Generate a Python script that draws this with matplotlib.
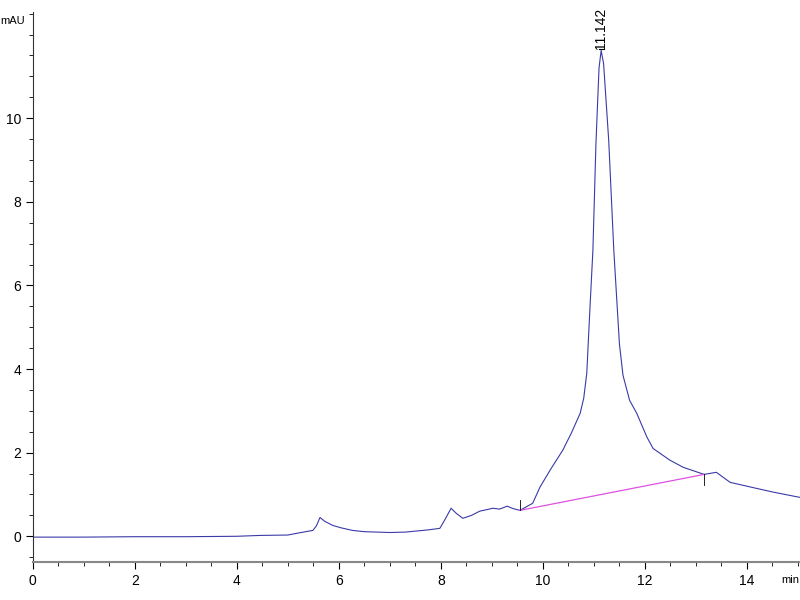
import matplotlib
matplotlib.use("Agg")
import matplotlib.pyplot as plt
import numpy as np

# chromatogram trace (min, mAU)
time = [0.0, 1.0, 2.0, 3.0, 4.0, 4.45, 5.0, 5.17, 5.35, 5.49, 5.56, 5.63, 5.72, 5.88,
        6.05, 6.27, 6.5, 6.75, 7.0, 7.3, 7.73, 7.98, 8.08, 8.2, 8.3, 8.43, 8.6, 8.76,
        9.02, 9.15, 9.3, 9.42, 9.55, 9.8, 9.94, 10.15, 10.39, 10.55, 10.73, 10.8,
        10.86, 10.92, 10.98, 11.04, 11.1, 11.142, 11.19, 11.29, 11.39, 11.5, 11.57,
        11.7, 11.84, 12.04, 12.16, 12.49, 12.75, 13.16, 13.4, 13.67, 14.1, 14.5, 15.04]
signal = [-0.02, -0.02, -0.01, -0.01, 0.0, 0.02, 0.03, 0.07, 0.11, 0.14, 0.25, 0.45,
          0.36, 0.26, 0.2, 0.14, 0.11, 0.1, 0.09, 0.1, 0.15, 0.19, 0.4, 0.67, 0.55,
          0.43, 0.5, 0.6, 0.67, 0.65, 0.72, 0.66, 0.62, 0.79, 1.17, 1.6, 2.06, 2.45,
          2.94, 3.3, 3.9, 5.4, 6.84, 9.4, 11.2, 11.62, 11.3, 9.47, 6.84, 4.6, 3.85,
          3.25, 2.94, 2.37, 2.1, 1.82, 1.65, 1.48, 1.53, 1.29, 1.17, 1.06, 0.93]

peak_rt = 11.142
peak_label = "11.142"
base_t = [9.55, 13.16]
base_y = [0.62, 1.48]

fig = plt.figure(figsize=(8, 6), dpi=100)
ax = fig.add_axes([0.041, 0.063, 0.959, 0.917])

ax.plot(time, signal, color="#3a3aa8", lw=0.8)
ax.plot(base_t, base_y, color="#e050e0", lw=0.9)
# integration marks
ax.plot([base_t[0], base_t[0]], [base_y[0], base_y[0] + 0.25], color="k", lw=0.6)
ax.plot([base_t[1], base_t[1]], [base_y[1], base_y[1] - 0.25], color="k", lw=0.6)

ax.text(peak_rt, 11.65, peak_label, rotation=90, ha="center", va="bottom",
        fontsize=10, family="Liberation Sans")
ax.plot([peak_rt - 0.05, peak_rt + 0.05], [11.65, 11.65], color="k", lw=0.8)

ax.set_xlim(0, 15.04)
ax.set_ylim(-0.62, 12.54)
ax.set_xticks(np.arange(0, 15, 2))
ax.set_xticks(np.arange(0, 15.01, 0.5), minor=True)
ax.set_yticks(np.arange(0, 11, 2))
ax.set_yticks(np.arange(-0.5, 12.51, 0.5), minor=True)

for s in ["top", "right"]:
    ax.spines[s].set_visible(False)
ax.spines["left"].set_color("#333333")
ax.spines["bottom"].set_color("#888888")
ax.spines["bottom"].set_linewidth(1.5)
ax.tick_params(which="major", length=5, width=0.8, labelsize=10, direction="out")
ax.tick_params(which="minor", length=3, width=0.6, direction="out")
for lab in ax.get_xticklabels() + ax.get_yticklabels():
    lab.set_family("Liberation Sans")

fig.text(0.031, 0.965, "mAU", fontsize=8, family="Liberation Sans", ha="right", va="center")
fig.text(0.988, 0.033, "min", fontsize=8, family="Liberation Sans", ha="center", va="center")

fig.savefig("out.png", dpi=100)
